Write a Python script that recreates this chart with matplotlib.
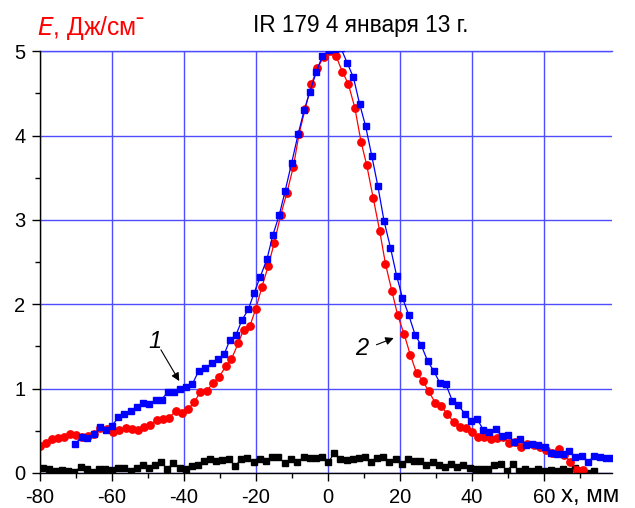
import matplotlib.pyplot as plt
from matplotlib.ticker import MultipleLocator

plt.rcParams['font.family'] = ['Liberation Sans', 'DejaVu Sans']
plt.rcParams['axes.unicode_minus'] = False

# curve 1: blue squares
x1 = [-70.3, -68.4, -66.9, -65.0, -63.3, -61.7, -60.0, -58.2, -56.6, -54.8,
      -53.1, -51.3, -49.6, -47.9, -46.2, -44.5, -42.9, -41.1, -39.4, -37.7,
      -35.9, -34.1, -32.3, -30.6, -28.8, -27.2, -25.6, -23.9, -22.1, -20.5,
      -18.8, -16.9, -15.3, -13.5, -11.9, -10.1, -8.25, -6.6, -5.0, -3.25,
      -1.5, 0.3, 1.9, 3.6, 5.4, 7.1, 8.8, 10.5, 12.2, 13.9,
      15.6, 17.4, 19.1, 20.7, 22.5, 24.3, 25.9, 27.7, 29.4, 31.1,
      32.8, 34.6, 36.3, 38.1, 39.8, 41.5, 43.2, 44.9, 46.6, 48.3,
      50.0, 51.7, 53.3, 55.2, 56.8, 58.4, 60.3, 61.9, 63.7, 65.4,
      67.1, 68.8, 70.6, 72.4, 74.0, 75.7, 77.4, 78.9]
e1 = [0.34, 0.43, 0.415, 0.46, 0.54, 0.51, 0.56, 0.66, 0.70, 0.74,
      0.78, 0.83, 0.815, 0.87, 0.87, 0.96, 0.96, 0.99, 1.02, 1.05,
      1.21, 1.24, 1.30, 1.35, 1.41, 1.58, 1.63, 1.81, 1.94, 2.135,
      2.325, 2.54, 2.82, 3.06, 3.34, 3.67, 4.02, 4.30, 4.52, 4.75,
      4.95, 5.01, 5.03, 5.04, 4.86, 4.69, 4.38, 4.11, 3.76, 3.40,
      2.99, 2.67, 2.34, 2.08, 1.87, 1.63, 1.52, 1.33, 1.21, 1.07,
      1.05, 0.854, 0.80, 0.70, 0.62, 0.64, 0.51, 0.49, 0.52, 0.435,
      0.45, 0.37, 0.40, 0.33, 0.34, 0.33, 0.31, 0.24, 0.225, 0.23,
      0.26, 0.19, 0.20, 0.135, 0.20, 0.19, 0.175, 0.18]

# curve 2: red circles
x2 = [-80.0, -78.4, -76.8, -75.1, -73.3, -71.7, -70.0, -68.3, -66.7, -64.9,
      -63.2, -61.5, -59.7, -58.0, -56.2, -54.5, -52.7, -51.0, -49.4, -47.5,
      -45.7, -44.1, -42.3, -40.6, -38.9, -37.1, -35.5, -33.7, -31.9, -30.2,
      -28.3, -26.8, -24.9, -23.4, -21.7, -20.0, -18.3, -16.6, -14.9, -13.1,
      -11.4, -9.6, -8.0, -6.3, -4.6, -2.9, -1.2, 0.5, 2.3, 4.0,
      5.7, 7.5, 9.2, 10.8, 12.6, 14.4, 16.0, 17.8, 19.4, 21.2,
      22.9, 24.7, 26.4, 28.0, 29.8, 31.5, 33.2, 35.0, 36.7, 38.3,
      40.1, 41.7, 43.5, 45.2, 47.0, 48.7, 50.4, 52.0, 53.8, 55.4,
      57.2, 58.9, 60.6, 62.3, 64.1, 65.7, 67.4, 69.2, 70.9]
e2 = [0.32, 0.36, 0.40, 0.415, 0.43, 0.46, 0.445, 0.43, 0.44, 0.46,
      0.53, 0.52, 0.49, 0.51, 0.535, 0.52, 0.51, 0.54, 0.57, 0.63,
      0.64, 0.65, 0.74, 0.71, 0.755, 0.84, 0.96, 0.97, 1.07, 1.14,
      1.27, 1.35, 1.54, 1.70, 1.74, 1.95, 2.21, 2.45, 2.73, 3.06,
      3.32, 3.63, 4.02, 4.32, 4.61, 4.80, 4.93, 5.0, 4.94, 4.76,
      4.61, 4.33, 3.93, 3.65, 3.26, 2.87, 2.48, 2.155, 1.87, 1.645,
      1.40, 1.18, 1.09, 0.97, 0.835, 0.79, 0.70, 0.60, 0.545, 0.53,
      0.49, 0.43, 0.43, 0.40, 0.42, 0.43, 0.36, 0.37, 0.305, 0.34,
      0.33, 0.31, 0.27, 0.24, 0.28, 0.21, 0.135, 0.04, 0.03]

# background: black squares
x0 = [-79.25, -77.5, -75.6, -74.0, -72.1, -70.6, -68.6, -67.0, -65.2, -63.5,
      -61.9, -60.0, -58.2, -56.7, -54.8, -53.1, -51.5, -49.7, -48.1, -46.4,
      -44.6, -43.0, -41.1, -39.5, -37.8, -36.0, -34.4, -32.8, -31.1, -29.4,
      -27.6, -25.75, -24.1, -22.4, -20.6, -18.9, -17.2, -15.5, -13.8, -11.9,
      -10.3, -8.5, -6.75, -5.0, -3.3, -1.7, 0.1, 1.75, 3.5, 5.2,
      6.9, 8.6, 10.3, 12.0, 13.7, 15.4, 17.1, 19.0, 20.6, 22.3,
      24.0, 25.6, 27.4, 29.1, 30.75, 32.5, 34.2, 36.0, 37.6, 39.4,
      41.1, 42.7, 44.5, 46.2, 48.1, 49.8, 51.5, 53.2, 54.9, 56.6,
      58.4, 60.1, 61.9, 63.5, 65.4, 67.0, 68.8, 70.5, 72.2, 73.9]
e0 = [0.063, 0.047, 0.028, 0.036, 0.028, 0.016, 0.067, 0.043, 0.016, 0.043,
      0.051, 0.036, 0.059, 0.059, 0.028, 0.059, 0.099, 0.059, 0.091, 0.13,
      0.043, 0.122, 0.059, 0.043, 0.083, 0.095, 0.142, 0.17, 0.146, 0.154,
      0.166, 0.083, 0.162, 0.174, 0.13, 0.166, 0.142, 0.186, 0.186, 0.115,
      0.166, 0.134, 0.186, 0.174, 0.174, 0.186, 0.127, 0.233, 0.17, 0.154,
      0.166, 0.182, 0.194, 0.134, 0.182, 0.194, 0.134, 0.166, 0.107, 0.17,
      0.146, 0.142, 0.099, 0.13, 0.095, 0.067, 0.107, 0.075, 0.091, 0.055,
      0.047, 0.047, 0.047, 0.091, 0.103, 0.028, 0.103, 0.02, 0.047, 0.028,
      0.047, 0.028, 0.036, 0.028, 0.047, 0.028, 0.059, 0.01, 0.005, 0.024]

fig = plt.figure(figsize=(6.35, 5.08), dpi=100)
ax = fig.add_axes([0.063, 0.069, 0.901, 0.830])

grid_col = '#4d4dff'
ax.set_xlim(-80, 79)
ax.set_ylim(0, 5)
ax.xaxis.set_major_locator(MultipleLocator(20))
ax.xaxis.set_minor_locator(MultipleLocator(10))
ax.yaxis.set_major_locator(MultipleLocator(1))
ax.yaxis.set_minor_locator(MultipleLocator(0.5))
ax.grid(True, which='major', color=grid_col, lw=1.0)
ax.axhline(5, color=grid_col, lw=1.0, clip_on=False, zorder=1)
ax.set_axisbelow(True)

for side in ('top', 'right'):
    ax.spines[side].set_visible(False)
for side in ('left', 'bottom'):
    ax.spines[side].set_linewidth(1.0)
    ax.spines[side].set_zorder(5)

ax.tick_params(which='major', direction='out', length=6, width=1, pad=4.5,
               labelsize=14.5)
ax.tick_params(which='minor', direction='out', length=3.6, width=1)
ax.set_xticks([-80, -60, -40, -20, 0, 20, 40, 60])

ax.plot(x0, e0, color='black', lw=0.8, marker='s', ms=4.6, zorder=3)
ax.plot(x2, e2, color='red', lw=0.9, marker='o', ms=5.3, zorder=3)
ax.plot(x1, e1, color='blue', lw=0.9, marker='s', ms=4.6, zorder=4)

# curve labels
ax.text(-48.1, 1.56, '1', fontsize=17, style='italic', ha='center', va='center')
ax.annotate('', xy=(-41.3, 1.09), xytext=(-46.4, 1.46),
            arrowprops=dict(arrowstyle='-|>', color='black', lw=0.8,
                            mutation_scale=12, shrinkA=0, shrinkB=0))
ax.text(9.4, 1.48, '2', fontsize=17, style='italic', ha='center', va='center')
ax.annotate('', xy=(18.3, 1.60), xytext=(13.5, 1.52),
            arrowprops=dict(arrowstyle='-|>', color='black', lw=0.8,
                            mutation_scale=12, shrinkA=0, shrinkB=0))

fig.text(0.058, 0.931, '$\\mathit{E}$, Дж/см\u02c9', color='red', fontsize=17.8,
         ha='left', va='baseline')
fig.text(0.568, 0.937, 'IR 179 4 января 13 г.', fontsize=16.3,
         ha='center', va='baseline')
fig.text(0.884, 0.011, 'x, мм', fontsize=17.3, ha='left', va='baseline')

fig.savefig('out.png', dpi=100)
